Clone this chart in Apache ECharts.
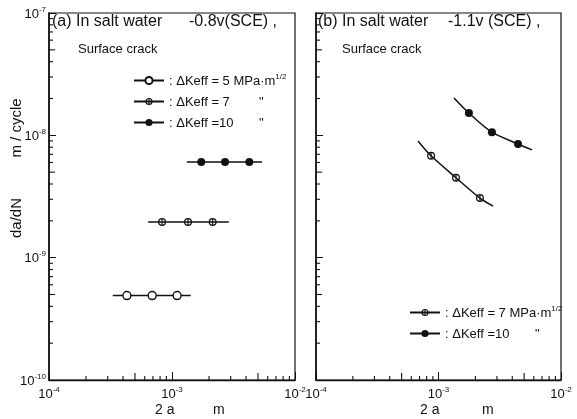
<!DOCTYPE html>
<html><head><meta charset="utf-8">
<script src="https://cdn.jsdelivr.net/npm/echarts@6/dist/echarts.min.js"></script>
<style>html,body{margin:0;padding:0;background:#fff}#c{width:577px;height:419px}</style>
</head><body><div id="c"></div>
<script>
// ---- data ----
const xTicks = [1e-4, 1e-3, 1e-2];
const yTicks = [1e-10, 1e-9, 1e-8, 1e-7];
const xMinorTicks = [2e-4,3e-4,4e-4,5e-4,6e-4,7e-4,8e-4,9e-4,2e-3,3e-3,4e-3,5e-3,6e-3,7e-3,8e-3,9e-3];
const yMinorTicks = [2e-10,3e-10,4e-10,5e-10,6e-10,7e-10,8e-10,9e-10,2e-9,3e-9,4e-9,5e-9,6e-9,7e-9,8e-9,9e-9,2e-8,3e-8,4e-8,5e-8,6e-8,7e-8,8e-8,9e-8];

// panel (a): horizontal lines (start/end) and data points
const a5Line = [3.3e-4, 1.42e-3];
const a5X = [4.3e-4, 6.9e-4, 1.1e-3];
const a5Y = [4.9e-10, 4.9e-10, 4.9e-10];
const a7Line = [6.4e-4, 2.9e-3];
const a7X = [8.3e-4, 1.35e-3, 2.14e-3];
const a7Y = [1.96e-9, 1.96e-9, 1.96e-9];
const a10Line = [1.32e-3, 5.4e-3];
const a10X = [1.73e-3, 2.7e-3, 4.25e-3];
const a10Y = [6.05e-9, 6.05e-9, 6.05e-9];

// panel (b): curve ends and data points
const b7Start = [6.8e-4, 9.0e-9];
const b7X = [8.7e-4, 1.39e-3, 2.18e-3];
const b7Y = [6.8e-9, 4.5e-9, 3.07e-9];
const b7End = [2.79e-3, 2.64e-9];
const b10Start = [1.34e-3, 2.02e-8];
const b10X = [1.77e-3, 2.73e-3, 4.46e-3];
const b10Y = [1.52e-8, 1.06e-8, 8.5e-9];
const b10End = [5.8e-3, 7.6e-9];

const legendText = {
  a5: '{t|: ΔKeff = 5 MPa·m}{s|1/2}',
  a7: '{w|: ΔKeff = 7}{t|"}',
  a10: '{w|: ΔKeff =10}{t|"}',
  b7: '{t|: ΔKeff = 7 MPa·m}{s|1/2}',
  b10: '{w|: ΔKeff =10}{t|"}'
};

// ---- chart ----
const FONT = '"Liberation Sans", Arial, sans-serif';
const INK = '#111';
const halfPath = 'path://M0,5a5,5 0 1,0 10,0a5,5 0 1,0 -10,0Z M1.6,5a3.4,3.4 0 1,1 6.8,0a3.4,3.4 0 1,1 -6.8,0Z M4.3,1.6v6.8h1.4v-6.8Z';

function hline(line, xs, ys) {
  const d = [{value: [line[0], ys[0]], symbol: 'none'}];
  xs.forEach((x, i) => d.push([x, ys[i]]));
  d.push({value: [line[1], ys[ys.length - 1]], symbol: 'none'});
  return d;
}
function curve(start, xs, ys, end) {
  const d = [{value: start, symbol: 'none'}];
  xs.forEach((x, i) => d.push([x, ys[i]]));
  d.push({value: end, symbol: 'none'});
  return d;
}
function expLabel(v) {
  const e = Math.round(Math.log10(v));
  return '{b|10}{e|' + e + '}';
}
const axisRich = {
  b: {fontSize: 13, fontFamily: FONT, color: INK, lineHeight: 15, verticalAlign: 'bottom'},
  e: {fontSize: 8, fontFamily: FONT, color: INK, lineHeight: 15, verticalAlign: 'top'}
};
const legendRich = {
  t: {fontSize: 13, fontFamily: FONT, color: INK, lineHeight: 15, verticalAlign: 'bottom'},
  w: {fontSize: 13, fontFamily: FONT, color: INK, lineHeight: 15, width: 90, verticalAlign: 'bottom'},
  s: {fontSize: 8, fontFamily: FONT, color: INK, lineHeight: 15, verticalAlign: 'top'}
};

function xAxisCfg(gi) {
  return {
    type: 'log', logBase: 10, gridIndex: gi, min: xTicks[0], max: xTicks[xTicks.length - 1],
    splitLine: {show: false},
    axisLine: {show: true, lineStyle: {color: INK, width: 1.4}},
    axisTick: {show: true, inside: true, length: 8, lineStyle: {color: INK}},
    axisLabel: {formatter: expLabel, rich: axisRich, margin: 6, showMinLabel: true, showMaxLabel: true}
  };
}
function yAxisCfg(gi, labels) {
  return {
    type: 'log', logBase: 10, gridIndex: gi, min: yTicks[0], max: yTicks[yTicks.length - 1],
    splitLine: {show: false},
    axisLine: {show: true, lineStyle: {color: INK, width: 1.6}},
    axisTick: {show: true, inside: true, length: 7, lineStyle: {color: INK}},
    axisLabel: {show: labels, formatter: expLabel, rich: axisRich, margin: 3}
  };
}
function minorX(xi) {
  return {
    type: 'custom', xAxisIndex: xi, yAxisIndex: xi, silent: true, clip: false, z: 3,
    data: xMinorTicks.map(v => [v, yTicks[0]]),
    renderItem: (params, api) => {
      const v = api.value(0);
      const p = api.coord([v, api.value(1)]);
      const m = Math.round(v / Math.pow(10, Math.floor(Math.log10(v) + 1e-9)));
      const len = m === 5 ? 7 : 4;
      return {type: 'line', shape: {x1: p[0], y1: p[1], x2: p[0], y2: p[1] - len}, style: {stroke: INK, lineWidth: 1.1}};
    }
  };
}
function minorY(yi) {
  return {
    type: 'custom', xAxisIndex: yi, yAxisIndex: yi, silent: true, clip: false, z: 3,
    data: yMinorTicks.map(v => [xTicks[0], v]),
    renderItem: (params, api) => {
      const v = api.value(1);
      const p = api.coord([api.value(0), v]);
      const m = Math.round(v / Math.pow(10, Math.floor(Math.log10(v) + 1e-9)));
      const len = m === 5 ? 6 : 4;
      return {type: 'line', shape: {x1: p[0], y1: p[1], x2: p[0] + len, y2: p[1]}, style: {stroke: INK, lineWidth: 1.1}};
    }
  };
}
function lineSeries(name, gi, data, kind, smooth) {
  const s = {
    name, type: 'line', xAxisIndex: gi, yAxisIndex: gi, data, smooth: smooth || false,
    lineStyle: {color: INK, width: 1.5}, symbolSize: 8, z: 5
  };
  if (kind === 'open') { s.symbol = 'circle'; s.itemStyle = {color: '#fff', borderColor: INK, borderWidth: 1.4}; }
  else if (kind === 'half') { s.symbol = halfPath; s.symbolSize = 8; s.itemStyle = {color: INK, borderWidth: 0}; }
  else { s.symbol = 'circle'; s.itemStyle = {color: INK, borderWidth: 0}; }
  return s;
}
function txt(t, x, y, size, extra) {
  return Object.assign({type: 'text', x, y, style: {text: t, fill: INK, font: size + 'px ' + FONT, align: 'left', verticalAlign: 'middle'}}, extra || {});
}

const chart = echarts.init(document.getElementById('c'), null, {renderer: 'canvas'});
chart.setOption({
  animation: false,
  backgroundColor: '#fff',
  grid: [
    {left: 49, top: 13, width: 246, height: 367, show: true, borderColor: INK, borderWidth: 1.2, backgroundColor: 'transparent'},
    {left: 316, top: 13, width: 245, height: 367, show: true, borderColor: INK, borderWidth: 1.2, backgroundColor: 'transparent'}
  ],
  xAxis: [xAxisCfg(0), xAxisCfg(1)],
  yAxis: [yAxisCfg(0, true), yAxisCfg(1, false)],
  legend: [
    {data: ['a5', 'a7', 'a10'], orient: 'vertical', left: 128, top: 68, itemGap: 8, itemWidth: 30, itemHeight: 9,
     formatter: n => legendText[n], textStyle: {rich: legendRich}, selectedMode: false},
    {data: ['b7', 'b10'], orient: 'vertical', left: 404, top: 300, itemGap: 8, itemWidth: 30, itemHeight: 9,
     formatter: n => legendText[n], textStyle: {rich: legendRich}, selectedMode: false}
  ],
  series: [
    minorX(0), minorX(1), minorY(0), minorY(1),
    lineSeries('a5', 0, hline(a5Line, a5X, a5Y), 'open'),
    lineSeries('a7', 0, hline(a7Line, a7X, a7Y), 'half'),
    lineSeries('a10', 0, hline(a10Line, a10X, a10Y), 'full'),
    lineSeries('b7', 1, curve(b7Start, b7X, b7Y, b7End), 'half', 0.3),
    lineSeries('b10', 1, curve(b10Start, b10X, b10Y, b10End), 'full', 0.3)
  ],
  graphic: [
    txt('(a) In salt water', 52, 22, 16),
    txt('-0.8v(SCE) ,', 189, 22, 16),
    txt('Surface crack', 78, 49, 13),
    txt('(b) In salt water', 318, 22, 16),
    txt('-1.1v (SCE) ,', 448, 22, 16),
    txt('Surface crack', 342, 49, 13),
    {type: 'text', x: 17, y: 128, rotation: Math.PI / 2, style: {text: 'm / cycle', fill: INK, font: '15px ' + FONT, align: 'center', verticalAlign: 'middle'}},
    {type: 'text', x: 17, y: 218, rotation: Math.PI / 2, style: {text: 'da/dN', fill: INK, font: '15px ' + FONT, align: 'center', verticalAlign: 'middle'}},
    txt('2 a', 155, 410, 14),
    txt('m', 213, 410, 14),
    txt('2 a', 420, 410, 14),
    txt('m', 482, 410, 14)
  ]
});
</script></body></html>
